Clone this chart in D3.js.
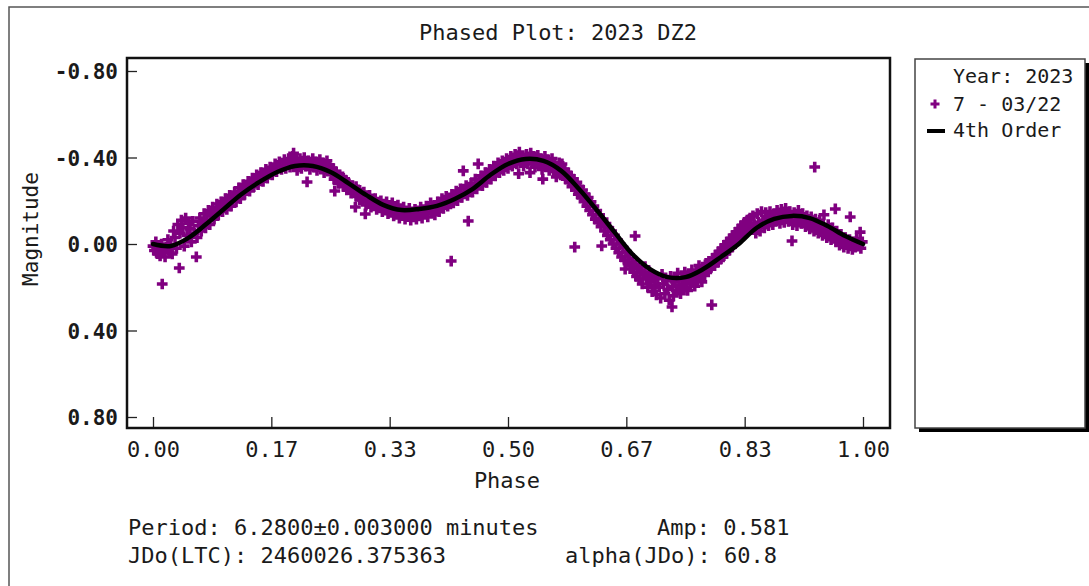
<!DOCTYPE html>
<html lang="en">
    <head>
        <meta charset="utf-8">
        <title>Phased Plot: 2023 DZ2</title>
        <script src="https://d3js.org/d3.v7.min.js"></script>
        <style type="text/css">
          body {
            margin: 0;
            background: #ffffff;
          }
          svg {
            width: 1089px;
            height: 586px;
            display: block;
          }
          .mono {
            font-family: "DejaVu Sans Mono", "Liberation Mono", monospace;
            fill: #1a1a1a;
          }
        </style>
    </head>
    <body>
        <svg></svg>

        <script type="text/javascript">

        const obsPoints = [
          // phase 0.00 - 0.05
          [0.000,0.010],[0.002,0.030],[0.004,-0.010],[0.006,0.045],[0.008,0.020],[0.010,0.055],[0.012,0.000],
          [0.013,0.185],[0.015,0.035],[0.017,0.060],[0.019,0.015],[0.021,-0.020],[0.023,0.040],[0.025,0.005],
          [0.027,0.046],[0.029,-0.060],[0.031,-0.030],[0.033,0.020],[0.035,-0.090],[0.037,0.111],[0.038,-0.050],
          [0.040,-0.110],[0.042,-0.075],[0.044,0.010],[0.046,-0.120],[0.048,-0.040],[0.050,-0.095],
          // 0.05 - 0.10
          [0.052,-0.070],[0.054,-0.010],[0.056,-0.105],[0.058,-0.050],[0.061,0.060],[0.062,-0.030],[0.064,-0.085],
          [0.066,-0.120],[0.068,-0.060],[0.070,-0.095],[0.072,-0.140],[0.074,-0.075],[0.076,-0.110],[0.078,-0.155],
          [0.080,-0.090],[0.082,-0.130],[0.084,-0.170],[0.086,-0.115],[0.088,-0.145],[0.090,-0.185],[0.092,-0.135],
          [0.094,-0.160],[0.096,-0.195],[0.098,-0.150],
          // 0.10 - 0.15
          [0.100,-0.175],[0.102,-0.210],[0.104,-0.160],[0.106,-0.190],[0.108,-0.225],[0.110,-0.175],[0.112,-0.205],
          [0.115,-0.240],[0.117,-0.195],[0.119,-0.225],[0.121,-0.260],[0.123,-0.210],[0.125,-0.245],[0.127,-0.275],
          [0.129,-0.230],[0.131,-0.260],[0.134,-0.290],[0.136,-0.245],[0.138,-0.275],[0.140,-0.305],[0.142,-0.265],
          [0.144,-0.290],[0.146,-0.320],[0.148,-0.275],
          // 0.15 - 0.25 (first maximum)
          [0.150,-0.300],[0.152,-0.330],[0.155,-0.290],[0.157,-0.315],[0.159,-0.345],[0.161,-0.305],[0.163,-0.330],
          [0.165,-0.355],[0.168,-0.320],[0.170,-0.345],[0.172,-0.370],[0.174,-0.335],[0.176,-0.360],[0.178,-0.380],
          [0.181,-0.345],[0.183,-0.365],[0.185,-0.390],[0.187,-0.350],[0.189,-0.375],[0.191,-0.395],[0.193,-0.355],
          [0.195,-0.380],[0.197,-0.405],[0.198,-0.420],[0.199,-0.365],[0.201,-0.385],[0.203,-0.340],[0.205,-0.375],
          [0.207,-0.395],[0.209,-0.350],[0.211,-0.380],[0.213,-0.400],[0.215,-0.360],[0.217,-0.287],[0.219,-0.385],
          [0.221,-0.345],[0.223,-0.370],[0.225,-0.395],[0.227,-0.355],[0.229,-0.380],[0.231,-0.340],[0.233,-0.365],
          [0.235,-0.390],[0.237,-0.350],[0.239,-0.375],[0.241,-0.330],[0.243,-0.360],[0.245,-0.385],[0.247,-0.340],
          [0.249,-0.365],
          // 0.25 - 0.33
          [0.251,-0.320],[0.253,-0.350],[0.255,-0.300],[0.256,-0.245],[0.257,-0.335],[0.259,-0.305],[0.261,-0.280],
          [0.263,-0.320],[0.265,-0.290],[0.267,-0.310],[0.269,-0.265],[0.271,-0.295],[0.273,-0.250],[0.275,-0.285],
          [0.277,-0.260],[0.279,-0.235],[0.281,-0.270],[0.283,-0.240],[0.285,-0.171],[0.286,-0.265],[0.287,-0.220],
          [0.289,-0.250],[0.291,-0.205],[0.293,-0.235],[0.295,-0.210],[0.297,-0.240],[0.299,-0.139],[0.300,-0.180],
          [0.301,-0.215],[0.303,-0.195],[0.305,-0.225],[0.307,-0.170],[0.309,-0.200],[0.311,-0.180],[0.313,-0.210],
          [0.315,-0.160],[0.317,-0.190],[0.319,-0.170],[0.321,-0.200],[0.323,-0.150],[0.325,-0.185],[0.327,-0.165],
          [0.329,-0.195],
          // 0.33 - 0.42 (first minimum)
          [0.331,-0.140],[0.333,-0.175],[0.335,-0.155],[0.337,-0.190],[0.339,-0.130],[0.341,-0.165],[0.343,-0.145],
          [0.345,-0.180],[0.347,-0.120],[0.349,-0.155],[0.351,-0.135],[0.353,-0.170],[0.355,-0.115],[0.357,-0.150],
          [0.359,-0.130],[0.361,-0.165],[0.363,-0.110],[0.365,-0.145],[0.367,-0.125],[0.369,-0.160],[0.371,-0.115],
          [0.373,-0.150],[0.375,-0.130],[0.377,-0.170],[0.379,-0.120],[0.381,-0.155],[0.383,-0.140],[0.385,-0.175],
          [0.387,-0.125],[0.389,-0.160],[0.391,-0.190],[0.393,-0.145],[0.395,-0.175],[0.397,-0.135],[0.399,-0.165],
          [0.401,-0.195],[0.403,-0.150],[0.405,-0.180],[0.407,-0.210],[0.409,-0.165],[0.411,-0.195],[0.413,-0.220],
          [0.415,-0.175],[0.417,-0.205],[0.419,-0.185],
          [0.420,0.079],[0.444,-0.106],[0.437,-0.338],[0.458,-0.370],
          // 0.42 - 0.50
          [0.421,-0.230],[0.423,-0.190],[0.425,-0.215],[0.427,-0.245],[0.429,-0.200],[0.431,-0.230],[0.433,-0.255],
          [0.435,-0.215],[0.439,-0.240],[0.441,-0.270],[0.443,-0.225],[0.446,-0.255],[0.448,-0.280],[0.450,-0.240],
          [0.452,-0.265],[0.454,-0.300],[0.456,-0.255],[0.460,-0.285],[0.462,-0.315],[0.464,-0.270],[0.466,-0.300],
          [0.468,-0.330],[0.470,-0.285],[0.472,-0.315],[0.474,-0.345],[0.476,-0.300],[0.478,-0.330],[0.480,-0.360],
          [0.482,-0.315],[0.484,-0.345],[0.486,-0.375],[0.488,-0.330],[0.490,-0.360],[0.492,-0.385],[0.494,-0.340],
          [0.496,-0.370],[0.498,-0.395],
          // 0.50 - 0.575 (second maximum)
          [0.500,-0.350],[0.502,-0.380],[0.504,-0.405],[0.506,-0.360],[0.508,-0.390],[0.510,-0.415],[0.512,-0.370],
          [0.514,-0.400],[0.515,-0.325],[0.516,-0.425],[0.518,-0.380],[0.520,-0.405],[0.522,-0.360],[0.524,-0.390],
          [0.526,-0.415],[0.528,-0.370],[0.530,-0.400],[0.531,-0.330],[0.532,-0.420],[0.534,-0.375],[0.536,-0.405],
          [0.538,-0.355],[0.540,-0.390],[0.542,-0.410],[0.544,-0.365],[0.546,-0.395],[0.548,-0.345],[0.549,-0.300],
          [0.550,-0.380],[0.552,-0.405],[0.554,-0.360],[0.556,-0.390],[0.558,-0.340],[0.560,-0.370],[0.562,-0.395],
          [0.564,-0.335],[0.566,-0.365],[0.568,-0.310],[0.570,-0.345],[0.572,-0.375],[0.574,-0.320],
          // 0.575 - 0.675 (descent)
          [0.576,-0.370],[0.578,-0.320],[0.580,-0.345],[0.582,-0.300],[0.584,-0.330],[0.586,-0.285],[0.588,-0.315],
          [0.590,-0.265],[0.592,-0.300],[0.594,0.014],[0.595,-0.250],[0.597,-0.285],[0.599,-0.230],[0.601,-0.265],
          [0.603,-0.215],[0.605,-0.250],[0.607,-0.195],[0.609,-0.230],[0.611,-0.175],[0.613,-0.215],[0.615,-0.155],
          [0.617,-0.195],[0.619,-0.135],[0.621,-0.175],[0.623,-0.115],[0.625,-0.155],[0.627,-0.100],[0.629,-0.135],
          [0.631,-0.080],[0.632,0.009],[0.634,-0.115],[0.636,-0.060],[0.638,-0.095],[0.640,-0.040],[0.642,-0.075],
          [0.644,-0.020],[0.646,-0.060],[0.648,0.000],[0.650,-0.040],[0.652,0.020],[0.654,-0.020],[0.656,0.040],
          [0.658,0.000],[0.660,0.060],[0.662,0.015],[0.664,0.075],[0.665,0.116],[0.667,0.035],[0.669,0.085],
          [0.671,0.050],[0.673,0.100],[0.679,-0.037],
          // 0.675 - 0.78 (second minimum)
          [0.675,0.085],[0.677,0.130],[0.679,0.095],[0.681,0.150],[0.683,0.110],[0.685,0.165],[0.687,0.125],
          [0.689,0.185],[0.691,0.140],[0.693,0.105],[0.695,0.160],[0.697,0.200],[0.699,0.130],[0.701,0.175],
          [0.703,0.220],[0.705,0.145],[0.707,0.190],[0.709,0.235],[0.711,0.160],[0.713,0.200],[0.715,0.250],
          [0.717,0.140],[0.719,0.185],[0.721,0.230],[0.723,0.170],[0.725,0.210],[0.727,0.260],[0.729,0.150],
          [0.731,0.291],[0.732,0.195],[0.733,0.240],[0.735,0.175],[0.737,0.215],[0.739,0.135],[0.741,0.190],
          [0.743,0.230],[0.745,0.160],[0.747,0.200],[0.749,0.130],[0.751,0.175],[0.753,0.215],[0.755,0.145],
          [0.757,0.185],[0.759,0.120],[0.761,0.160],[0.763,0.195],[0.765,0.130],[0.767,0.165],[0.769,0.100],
          [0.771,0.140],[0.773,0.175],[0.775,0.110],[0.777,0.145],[0.779,0.090],[0.787,0.282],
          // 0.78 - 0.88
          [0.781,0.125],[0.783,0.080],[0.785,0.115],[0.789,0.065],[0.791,0.100],[0.793,0.050],[0.795,0.085],
          [0.797,0.035],[0.799,0.070],[0.801,0.020],[0.803,0.060],[0.805,0.005],[0.807,0.045],[0.809,-0.010],
          [0.811,0.030],[0.813,-0.025],[0.815,0.015],[0.817,-0.040],[0.819,0.000],[0.821,-0.055],[0.823,-0.015],
          [0.825,-0.070],[0.827,-0.030],[0.829,-0.085],[0.831,-0.045],[0.833,-0.100],[0.835,-0.060],[0.837,-0.110],
          [0.839,-0.070],[0.841,-0.120],[0.843,-0.080],[0.845,-0.130],[0.847,-0.090],[0.849,-0.050],[0.851,-0.140],
          [0.853,-0.100],[0.855,-0.060],[0.857,-0.150],[0.859,-0.110],[0.861,-0.075],[0.863,-0.145],[0.865,-0.115],
          [0.867,-0.085],[0.869,-0.150],[0.871,-0.120],[0.873,-0.090],[0.875,-0.140],[0.877,-0.105],
          // 0.88 - 1.00 (third maximum)
          [0.879,-0.155],[0.881,-0.125],[0.883,-0.095],[0.885,-0.160],[0.887,-0.130],[0.889,-0.100],[0.891,-0.165],
          [0.893,-0.135],[0.895,-0.105],[0.897,-0.150],[0.899,-0.120],[0.900,-0.014],[0.901,-0.090],[0.903,-0.145],
          [0.905,-0.115],[0.907,-0.085],[0.909,-0.155],[0.911,-0.125],[0.913,-0.095],[0.915,-0.140],[0.917,-0.110],
          [0.919,-0.080],[0.921,-0.130],[0.923,-0.100],[0.925,-0.070],[0.927,-0.125],[0.929,-0.095],[0.931,-0.060],
          [0.932,-0.356],[0.933,-0.115],[0.935,-0.085],[0.937,-0.050],[0.939,-0.110],[0.941,-0.075],[0.943,-0.040],
          [0.945,-0.135],[0.947,-0.065],[0.949,-0.030],[0.951,-0.090],[0.953,-0.055],[0.955,-0.020],[0.957,-0.075],
          [0.959,-0.040],[0.961,-0.162],[0.962,-0.010],[0.963,-0.060],[0.965,-0.025],[0.967,0.005],[0.969,-0.045],
          [0.971,-0.015],[0.973,0.015],[0.975,-0.030],[0.977,-0.005],[0.979,0.020],[0.981,-0.020],[0.982,-0.125],
          [0.983,0.005],[0.985,0.025],[0.987,-0.010],[0.989,0.015],[0.991,-0.025],[0.993,0.010],[0.995,-0.005],
          [0.996,-0.055],[0.997,0.020],[0.999,-0.010]
        ];

        // 4th order fit
        const fitPhase = [0.000,0.025,0.050,0.075,0.100,0.125,0.150,0.175,0.200,0.225,0.250,0.275,0.300,0.325,
                          0.350,0.375,0.400,0.425,0.450,0.475,0.500,0.525,0.550,0.575,0.600,0.625,0.650,0.675,
                          0.700,0.725,0.750,0.775,0.800,0.825,0.850,0.875,0.900,0.925,0.950,0.975,1.000];
        const fitMag   = [0.000,0.009,-0.028,-0.092,-0.162,-0.231,-0.287,-0.333,-0.361,-0.361,-0.333,-0.282,-0.227,-0.180,
                          -0.157,-0.162,-0.176,-0.208,-0.254,-0.319,-0.370,-0.393,-0.384,-0.338,-0.254,-0.157,-0.055,0.046,
                          0.116,0.153,0.153,0.116,0.060,0.000,-0.074,-0.116,-0.130,-0.120,-0.083,-0.037,0.000];

        const xTicks = [0, 1/6, 2/6, 3/6, 4/6, 5/6, 1];
        const yTicks = [-0.8, -0.4, 0, 0.4, 0.8];

        const titleText = "Phased Plot: 2023 DZ2";
        const legendLabels = ["Year: 2023", "7 - 03/22", "4th Order"];
        const infoLines = [
          {text: "Period: 6.2800\u00b10.003000 minutes", x: 128, y: 535},
          {text: "JDo(LTC): 2460026.375363", x: 128, y: 563},
          {text: "Amp: 0.581", x: 657, y: 535},
          {text: "alpha(JDo): 60.8", x: 565, y: 563}
        ];

        const purple = "#800080";
        const svg = d3.select("svg");

        // outer frame
        svg.append("rect")
            .attr("x", 9).attr("y", 7)
            .attr("width", 1100).attr("height", 600)
            .attr("fill", "#fff")
            .attr("stroke", "#555")
            .attr("stroke-width", 1.5);

        // scales
        const x = d3.scaleLinear().domain([0, 1]).range([153, 863]);
        const y = d3.scaleLinear().domain([-0.8, 0.8]).range([71, 417]);

        // plot box
        const box = {left: 127, top: 58, right: 890, bottom: 428};

        // axes
        const xAxis = svg.append("g")
            .attr("transform", "translate(0," + box.bottom + ")")
            .call(d3.axisBottom(x).tickValues(xTicks).tickSize(-11).tickPadding(13)
                  .tickFormat(d => d.toFixed(2)));
        const yAxis = svg.append("g")
            .attr("transform", "translate(" + box.left + ",0)")
            .call(d3.axisLeft(y).tickValues(yTicks).tickSize(-10).tickPadding(9)
                  .tickFormat(d => d.toFixed(2)));

        [xAxis, yAxis].forEach(a => {
            a.select(".domain").remove();
            a.selectAll("line").attr("stroke", "#222").attr("stroke-width", 1.3);
            a.selectAll("text").attr("class", "mono").attr("fill", "#1a1a1a");
        });
        xAxis.selectAll("text").attr("font-size", 22).attr("dy", "0.71em");
        yAxis.selectAll("text").attr("font-size", 21).attr("font-weight", "bold").attr("dy", "0.36em");

        // points
        const cross = d3.symbol().type(d3.symbolCross).size(64);
        svg.append("g")
            .selectAll("path")
            .data(obsPoints)
            .enter()
            .append("path")
            .attr("transform", d => "translate(" + x(d[0]) + "," + y(d[1]) + ")")
            .attr("d", cross)
            .attr("fill", purple);

        // fit curve
        const fitLine = d3.line()
            .x((d, i) => x(fitPhase[i]))
            .y(d => y(d))
            .curve(d3.curveCatmullRom);
        svg.append("path")
            .attr("d", fitLine(fitMag))
            .attr("fill", "none")
            .attr("stroke", "#000")
            .attr("stroke-width", 4.5)
            .attr("stroke-linecap", "round");

        // plot frame on top
        svg.append("rect")
            .attr("x", box.left).attr("y", box.top)
            .attr("width", box.right - box.left)
            .attr("height", box.bottom - box.top)
            .attr("fill", "none")
            .attr("stroke", "#111")
            .attr("stroke-width", 2.5);

        // title
        svg.append("text")
            .attr("class", "mono")
            .attr("x", 558).attr("y", 40)
            .attr("text-anchor", "middle")
            .attr("font-size", 22)
            .text(titleText);

        // axis labels
        svg.append("text")
            .attr("class", "mono")
            .attr("x", 507).attr("y", 488)
            .attr("text-anchor", "middle")
            .attr("font-size", 22)
            .text("Phase");
        svg.append("text")
            .attr("class", "mono")
            .attr("transform", "translate(38,229) rotate(-90)")
            .attr("text-anchor", "middle")
            .attr("font-size", 21)
            .text("Magnitude");

        // info lines under the chart
        svg.append("g")
            .selectAll("text")
            .data(infoLines)
            .enter()
            .append("text")
            .attr("class", "mono")
            .attr("x", d => d.x).attr("y", d => d.y)
            .attr("font-size", 22)
            .text(d => d.text);

        // legend with shadow
        const lg = {x: 915, y: 59, w: 170, h: 369};
        svg.append("rect")
            .attr("x", lg.x + 4).attr("y", lg.y + 4)
            .attr("width", lg.w).attr("height", lg.h)
            .attr("fill", "#000");
        svg.append("rect")
            .attr("x", lg.x).attr("y", lg.y)
            .attr("width", lg.w).attr("height", lg.h)
            .attr("fill", "#fff")
            .attr("stroke", "#444")
            .attr("stroke-width", 1.5);

        const legendRows = [83, 111, 137];
        svg.append("g")
            .selectAll("text")
            .data(legendLabels)
            .enter()
            .append("text")
            .attr("class", "mono")
            .attr("x", 953)
            .attr("y", (d, i) => legendRows[i])
            .attr("font-size", 20)
            .attr("fill", "#333")
            .text(d => d);

        svg.append("path")
            .attr("transform", "translate(935,104)")
            .attr("d", d3.symbol().type(d3.symbolCross).size(45))
            .attr("fill", purple);
        svg.append("line")
            .attr("x1", 927).attr("x2", 945)
            .attr("y1", 131).attr("y2", 131)
            .attr("stroke", "#000")
            .attr("stroke-width", 4);

        </script>
    </body>
</html>
